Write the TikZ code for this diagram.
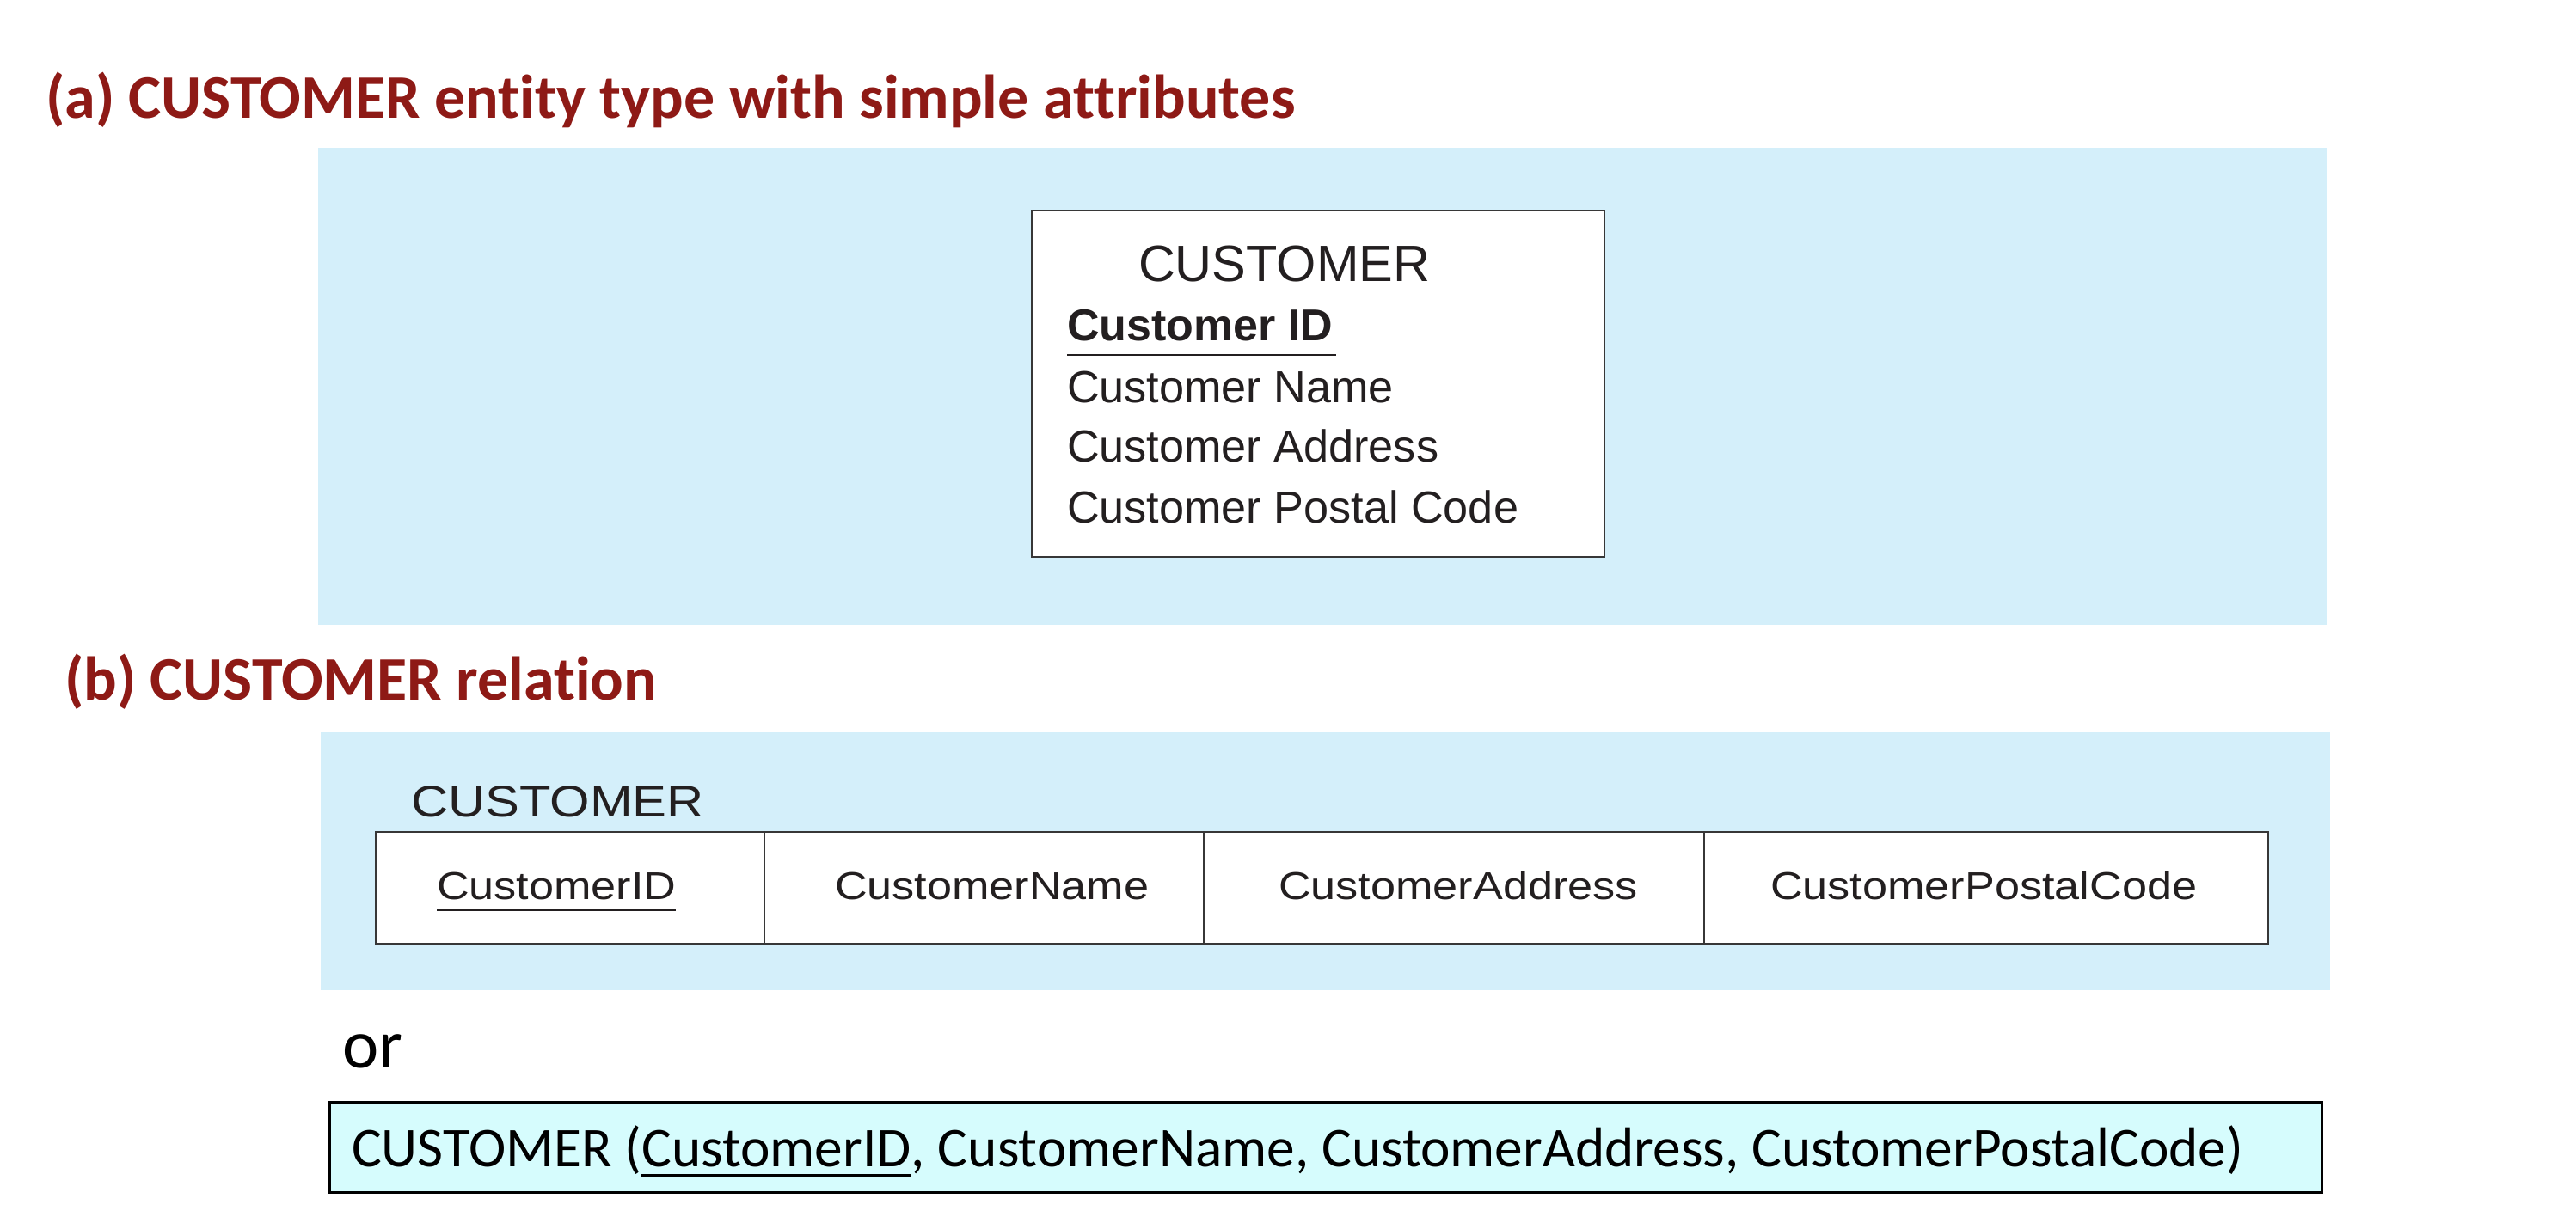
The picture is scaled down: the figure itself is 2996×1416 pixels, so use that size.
\documentclass[tikz,border=0pt]{standalone}
\usepackage{fontspec}
\setmainfont{Carlito}[Ligatures={NoCommon}]
\newfontfamily\helv{Liberation Sans}
\newfontfamily\helvwide[FakeStretch=1.16]{Liberation Sans}
\usetikzlibrary{calc}
\definecolor{titlered}{RGB}{142,26,22}
\definecolor{panelblue}{RGB}{212,239,250}
\definecolor{relcyan}{RGB}{214,252,253}
\definecolor{inkdark}{RGB}{35,31,32}
\definecolor{boxline}{RGB}{55,55,55}
\begin{document}
\begin{tikzpicture}[x=1pt,y=-1pt,
  txt/.style={anchor=base west,inner sep=0pt,outer sep=0pt},
  titletext/.style={txt,text=titlered,font=\fontsize{72}{86}\selectfont\bfseries},
  enthead/.style={txt,text=inkdark,font=\helv\fontsize{59.5}{70}\selectfont},
  entattr/.style={txt,text=inkdark,font=\helv\fontsize{52.2}{62}\selectfont},
  entkey/.style={txt,text=inkdark,font=\helv\fontsize{52}{62}\selectfont\bfseries},
  tablabel/.style={txt,text=inkdark,font=\helvwide\fontsize{51.5}{60}\selectfont},
  tabcell/.style={txt,text=inkdark,font=\helvwide\fontsize{45}{54}\selectfont},
  reltext/.style={txt,text=black,font=\fontsize{65.3}{78}\selectfont},
  ortext/.style={txt,text=black,font=\fontsize{80}{96}\selectfont},
  boxedge/.style={draw=boxline,line width=2.5pt},
  divider/.style={draw=boxline,line width=2pt},
  keyline/.style={draw=inkdark,line width=2.5pt}
]
\useasboundingbox[fill=white] (0,0) rectangle (2996,1416);

% (a)
\node[titletext] (ta) at (53,137) {(a) CUSTOMER entity type with simple attributes};
\fill[panelblue] (370,172) rectangle (2706,727);
\draw[boxedge,fill=white] (1200,245) rectangle (1866,648);
\node[enthead] (eh) at (1324,327.5) {CUSTOMER};
\node[entkey] (ek) at (1241,396) {Customer ID};
\draw[keyline] ($(ek.base west)+(0,17)$) -- ($(ek.base east)+(4,17)$);
\node[entattr] (e1) at (1241,468) {Customer Name};
\node[entattr] (e2) at (1241,537) {Customer Address};
\node[entattr] (e3) at (1241,608) {Customer Postal Code};

% (b)
\node[titletext] (tb) at (75,814) {(b) CUSTOMER relation};
\fill[panelblue] (373,852) rectangle (2710,1152);
\node[tablabel] (tl) at (478,950) {CUSTOMER};
\draw[boxedge,fill=white] (437,968) rectangle (2638,1098);
\draw[divider] (889,968) -- (889,1098);
\draw[divider] (1400,968) -- (1400,1098);
\draw[divider] (1982,968) -- (1982,1098);
\node[tabcell] (c1) at (508,1046) {CustomerID};
\draw[keyline,line width=2.2pt] ($(c1.base west)+(0,13)$) -- ($(c1.base east)+(0,13)$);
\node[tabcell] (c2) at (971,1046) {CustomerName};
\node[tabcell] (c3) at (1487,1046) {CustomerAddress};
\node[tabcell] (c4) at (2059,1046) {CustomerPostalCode};

% or
\node[ortext] (or) at (398,1242) {or};

% relation schema
\draw[draw=black,line width=3pt,fill=relcyan] (383,1282) rectangle (2700,1387);
\node[reltext] (r1) at (409,1357) {CUSTOMER (};
\node[reltext] (r2) at (r1.base east) {CustomerID};
\node[reltext] (r3) at (r2.base east) {, CustomerName, CustomerAddress, CustomerPostalCode)};
\draw[draw=black,line width=3pt] ($(r2.base west)+(0,10)$) -- ($(r2.base east)+(0,10)$);
\end{tikzpicture}
\end{document}
